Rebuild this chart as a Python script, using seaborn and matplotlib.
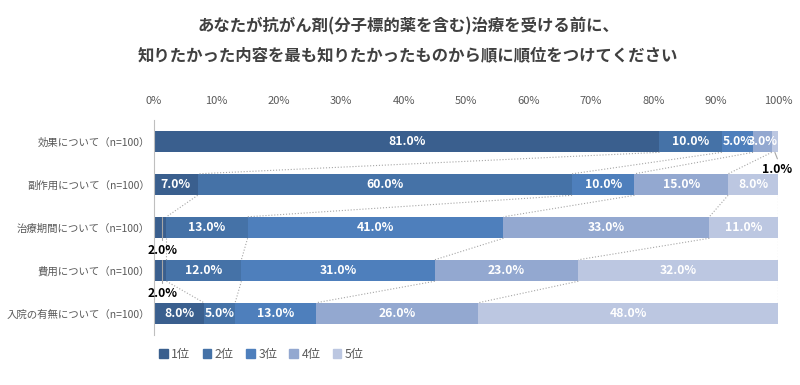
import matplotlib
matplotlib.use("Agg")
import matplotlib.pyplot as plt
import pandas as pd
import seaborn as sns
from matplotlib.patches import Patch

# Survey data (percent, n=100 each)
categories = [
    "効果について（n=100）",
    "副作用について（n=100）",
    "治療期間について（n=100）",
    "費用について（n=100）",
    "入院の有無について（n=100）",
]
ranks = ["1位", "2位", "3位", "4位", "5位"]
rank1 = [81, 7, 2, 2, 8]
rank2 = [10, 60, 13, 12, 5]
rank3 = [5, 10, 41, 31, 13]
rank4 = [3, 15, 33, 23, 26]
rank5 = [1, 8, 11, 32, 48]

colors = ["#3A5F8E", "#4572A7", "#4E7FBC", "#93A8D0", "#BCC7E1"]
title_lines = [
    "あなたが抗がん剤(分子標的薬を含む)治療を受ける前に、",
    "知りたかった内容を最も知りたかったものから順に順位をつけてください",
]

sns.set_theme(style="white")
plt.rcParams["font.family"] = ["Noto Sans CJK JP", "DejaVu Sans"]

df = pd.DataFrame(
    {"category": categories, "1位": rank1, "2位": rank2, "3位": rank3,
     "4位": rank4, "5位": rank5}
)
cum = df[ranks].cumsum(axis=1)
cum["category"] = df["category"]

fig = plt.figure(figsize=(8, 3.85), dpi=100)
ax = fig.add_axes([0.1925, 0.13, 0.78, 0.558])

# stacked bars: draw cumulative totals from the last rank down
for rank, color in reversed(list(zip(ranks, colors))):
    sns.barplot(data=cum, x=rank, y="category", color=color, orient="h",
                width=0.5, saturation=1, linewidth=0, ax=ax)

ax.set_xlim(0, 100)
ax.set_ylim(4.5, -0.5)
ax.set_xlabel("")
ax.set_ylabel("")
ax.xaxis.tick_top()
ax.set_xticks(range(0, 101, 10))
ax.set_xticklabels([f"{t}%" for t in range(0, 101, 10)])
ax.tick_params(axis="x", length=0, pad=10, labelsize=8, labelcolor="#595959")
ax.tick_params(axis="y", length=0, pad=3, labelsize=7.5, labelcolor="#595959")
for side in ["top", "right", "bottom"]:
    ax.spines[side].set_visible(False)
ax.spines["left"].set_color("#BFBFBF")
ax.spines["left"].set_linewidth(0.8)

# series lines between bars
for rank in ranks:
    for i in range(len(categories) - 1):
        ax.plot([cum[rank][i], cum[rank][i + 1]], [i + 0.25, i + 0.75],
                ls=":", color="#A6A6A6", lw=0.8, zorder=1)

# segment labels
outside = {(0, "5位"), (2, "1位"), (3, "1位")}
for i in range(len(categories)):
    for rank in ranks:
        v = df[rank][i]
        center = cum[rank][i] - v / 2
        if (i, rank) in outside:
            continue
        ax.text(center, i, f"{v:.1f}%", ha="center", va="center",
                color="white", fontsize=8.8, fontweight="bold")

# small labels placed outside with leader lines
for i in (2, 3):
    x = cum["1位"][i] - df["1位"][i] / 2
    ax.plot([x + 0.3, x + 0.3], [i - 0.25, i + 0.3], color="#A6A6A6", lw=0.8)
    ax.text(x + 0.3, i + 0.53, f"{df['1位'][i]:.1f}%", ha="center", va="center",
            color="black", fontsize=8.8, fontweight="bold")
x = cum["5位"][0] - df["5位"][0] / 2
ax.plot([x, x + 0.4], [0.25, 0.4], color="#A6A6A6", lw=0.8)
ax.text(x + 0.4, 0.66, f"{df['5位'][0]:.1f}%", ha="center", va="center",
        color="black", fontsize=8.8, fontweight="bold", clip_on=False)

fig.text(0.51, 0.93, title_lines[0], ha="center", va="center",
         fontsize=11.8, fontweight="bold", color="#404040")
fig.text(0.51, 0.857, title_lines[1], ha="center", va="center",
         fontsize=11.8, fontweight="bold", color="#404040")

handles = [Patch(color=c, label=r) for r, c in zip(ranks, colors)]
fig.legend(handles=handles, loc="lower left", bbox_to_anchor=(0.185, 0.035),
           ncol=5, frameon=False, handlelength=0.7, handleheight=0.7,
           handletextpad=0.3, columnspacing=1.0, fontsize=8.8,
           labelcolor="#595959")

fig.savefig("out.png", dpi=100)
